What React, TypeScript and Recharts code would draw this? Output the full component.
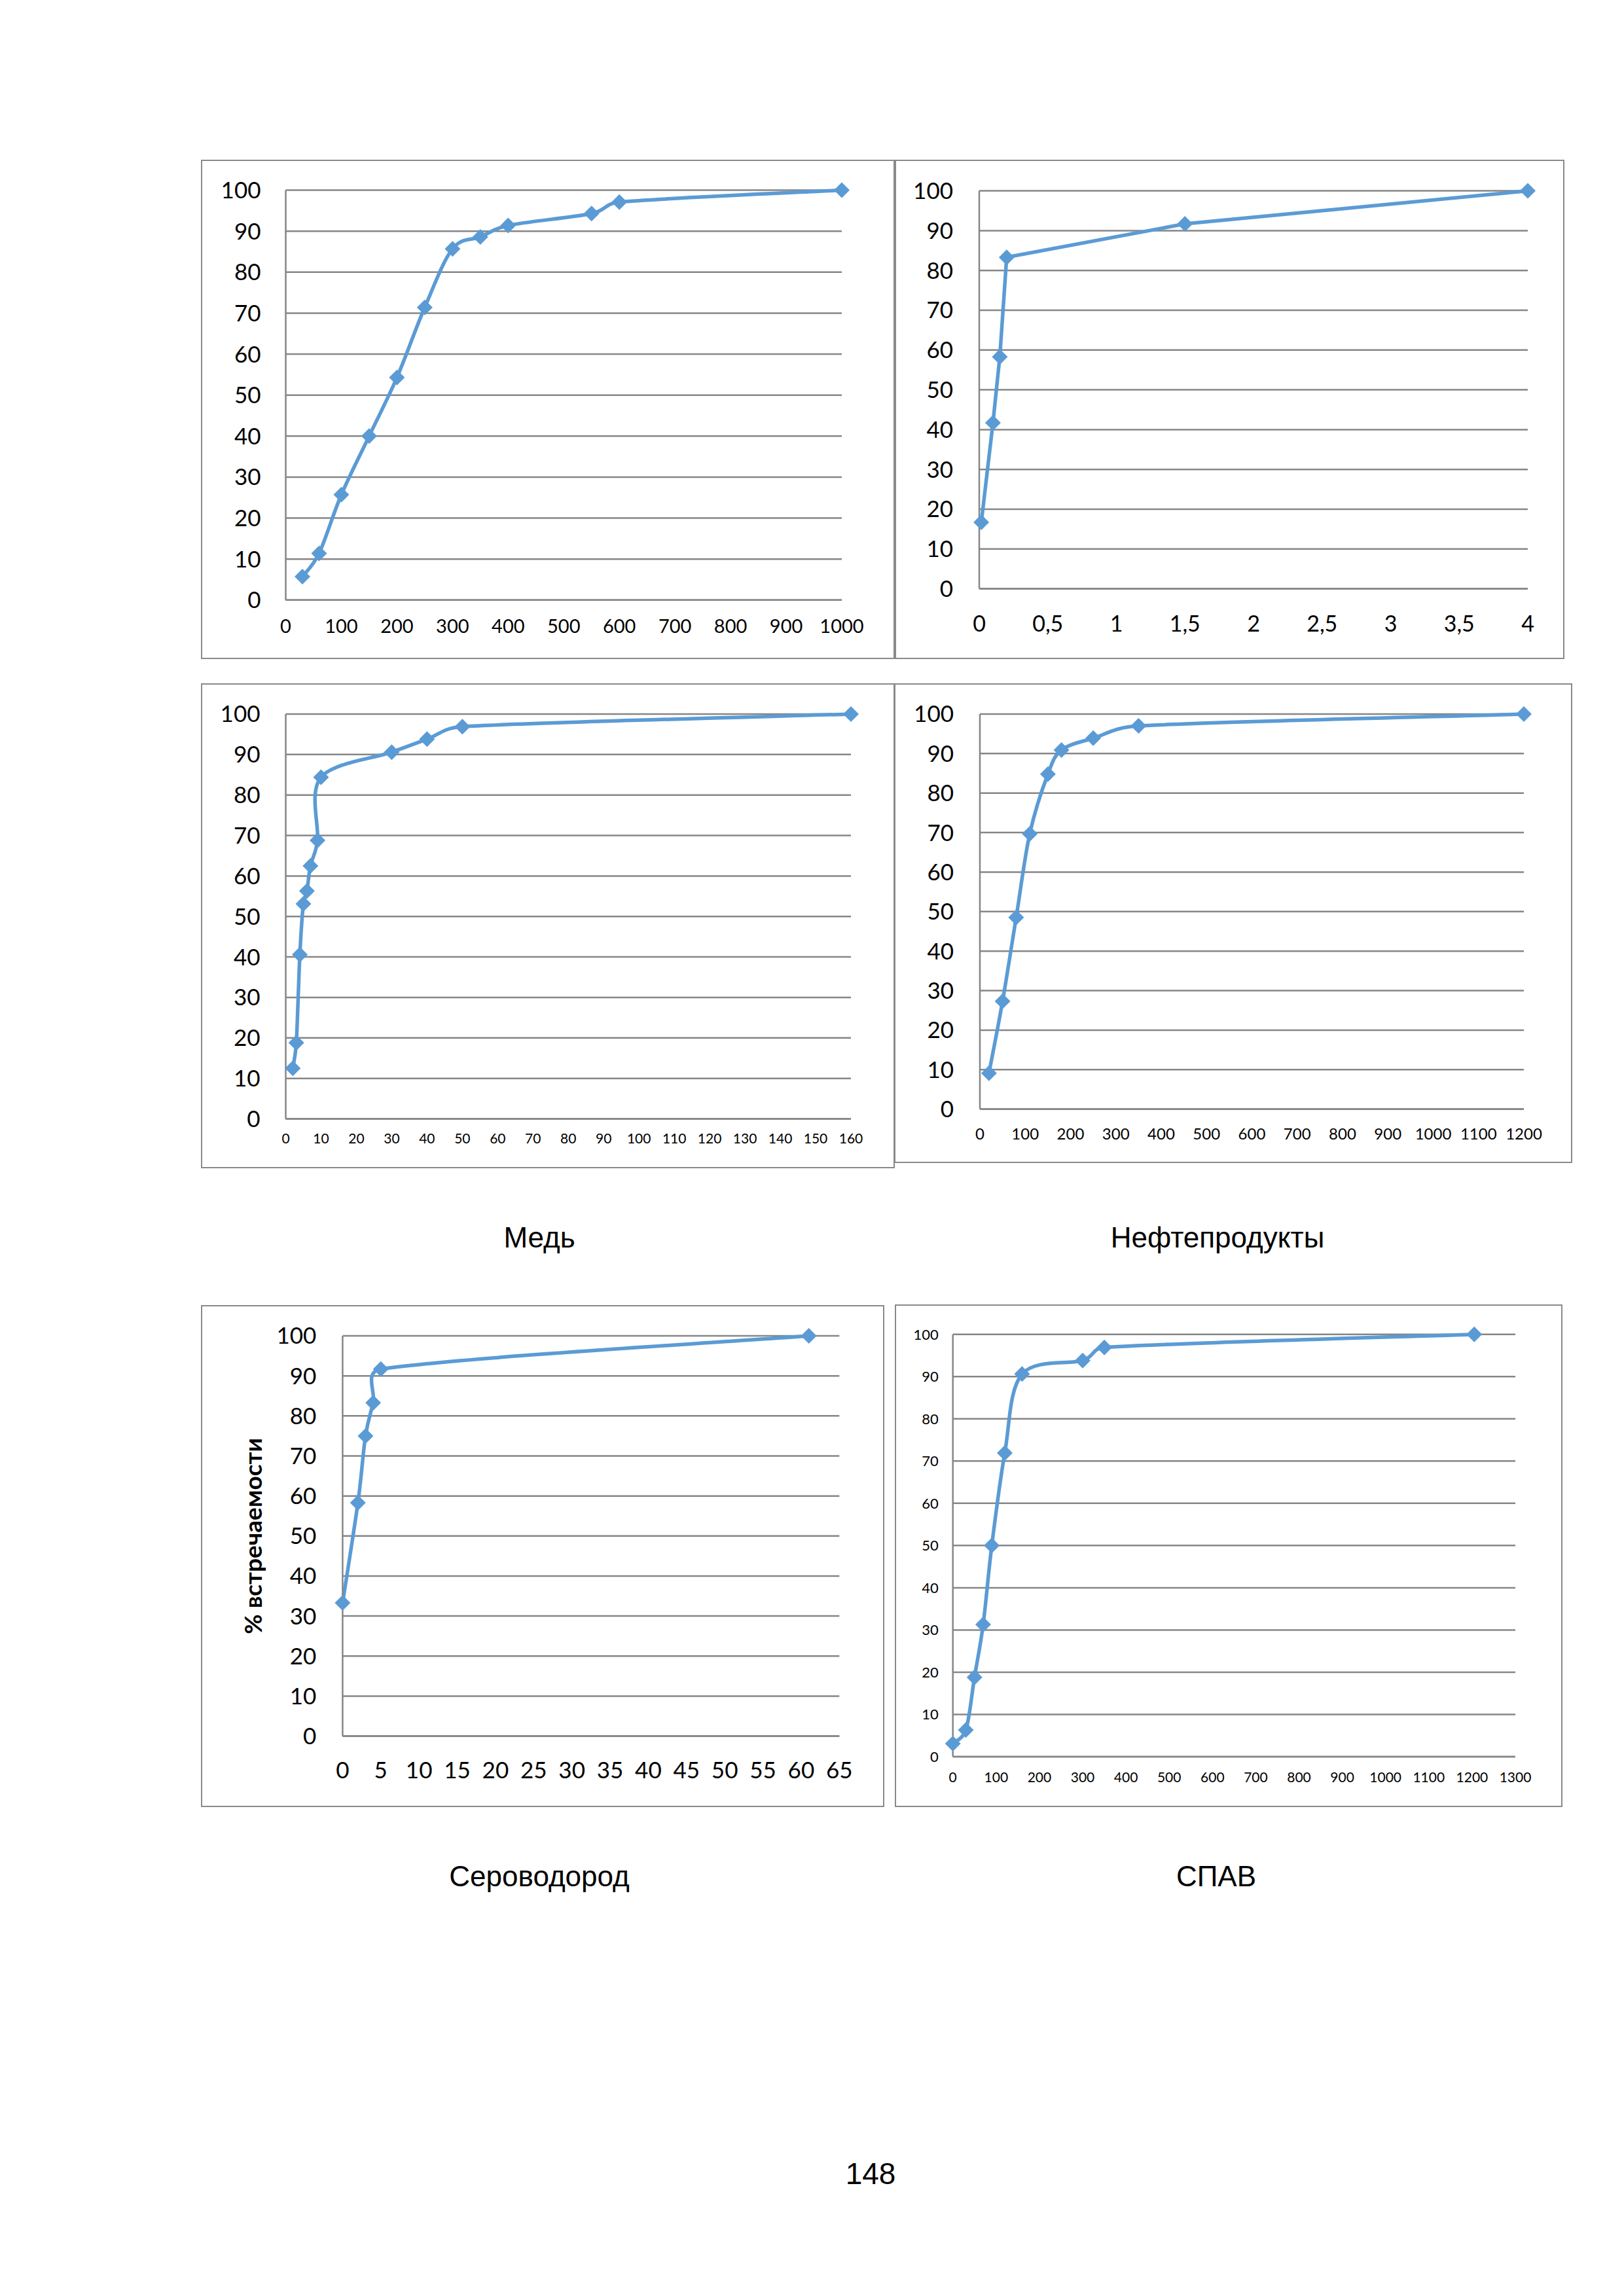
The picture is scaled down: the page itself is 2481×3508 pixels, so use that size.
import React from "react"
import { LineChart, Line, XAxis, YAxis, CartesianGrid, Label } from "recharts"

const BLUE = "#5B9BD5"
const GRID = "#868686"
const FRAME = "#8a8a8a"
const TICK_FONT = "Lato, Carlito, 'Open Sans', sans-serif"
const TEXT_FONT = "'Liberation Sans', Arial, sans-serif"

const Y_TICKS = [0, 10, 20, 30, 40, 50, 60, 70, 80, 90, 100]

// row 1, left
const topLeftX = [30, 60, 100, 150, 200, 250, 300, 350, 400, 550, 600, 1000]
const topLeftY = [5.7, 11.4, 25.7, 40, 54.3, 71.4, 85.7, 88.6, 91.4, 94.3, 97.1, 100]
const topLeftTicks = [0, 100, 200, 300, 400, 500, 600, 700, 800, 900, 1000]

// row 1, right
const topRightX = [0.015, 0.1, 0.15, 0.2, 1.5, 4]
const topRightY = [16.7, 41.7, 58.3, 83.3, 91.7, 100]
const topRightTicks = [0, 0.5, 1, 1.5, 2, 2.5, 3, 3.5, 4]

// Медь
const copperX = [2, 3, 4, 5, 6, 7, 9, 10, 30, 40, 50, 160]
const copperY = [12.5, 18.8, 40.6, 53.1, 56.3, 62.5, 68.8, 84.4, 90.6, 93.8, 96.9, 100]
const copperTicks = [0, 10, 20, 30, 40, 50, 60, 70, 80, 90, 100, 110, 120, 130, 140, 150, 160]

// Нефтепродукты
const oilX = [20, 50, 80, 110, 150, 180, 250, 350, 1200]
const oilY = [9.1, 27.3, 48.5, 69.7, 84.8, 90.9, 93.9, 97, 100]
const oilTicks = [0, 100, 200, 300, 400, 500, 600, 700, 800, 900, 1000, 1100, 1200]

// Сероводород
const h2sX = [0, 2, 3, 4, 5, 61]
const h2sY = [33.3, 58.3, 75, 83.3, 91.7, 100]
const h2sTicks = [0, 5, 10, 15, 20, 25, 30, 35, 40, 45, 50, 55, 60, 65]

// СПАВ
const surfX = [0, 30, 50, 70, 90, 120, 160, 300, 350, 1205]
const surfY = [3.1, 6.3, 18.8, 31.3, 50, 71.9, 90.6, 93.8, 96.9, 100]
const surfTicks = [0, 100, 200, 300, 400, 500, 600, 700, 800, 900, 1000, 1100, 1200, 1300]

const toRows = (xs: number[], ys: number[]) => xs.map((x, i) => ({ x, y: ys[i] }))

// Excel-like smoothed line: Catmull-Rom arms, shortened when a neighbour is far away
const excelSmooth = (context: any) => {
  let pts: number[][] = []
  const arm = (a: number[], b: number[], seg: number) => {
    let dx = (b[0] - a[0]) / 6
    let dy = (b[1] - a[1]) / 6
    const len = Math.hypot(dx, dy)
    const max = seg * 0.5
    if (len > max && len > 0) {
      dx *= max / len
      dy *= max / len
    }
    return [dx, dy]
  }
  return {
    areaStart() {},
    areaEnd() {},
    lineStart() {
      pts = []
    },
    lineEnd() {
      if (!pts.length) return
      context.moveTo(pts[0][0], pts[0][1])
      for (let i = 0; i < pts.length - 1; i++) {
        const p0 = pts[i - 1] || pts[i]
        const p1 = pts[i]
        const p2 = pts[i + 1]
        const p3 = pts[i + 2] || p2
        const seg = Math.hypot(p2[0] - p1[0], p2[1] - p1[1])
        const a1 = arm(p0, p2, seg)
        const a2 = arm(p1, p3, seg)
        context.bezierCurveTo(p1[0] + a1[0], p1[1] + a1[1], p2[0] - a2[0], p2[1] - a2[1], p2[0], p2[1])
      }
    },
    point(x: number, y: number) {
      pts.push([+x, +y])
    },
  }
}

const renderDiamond = (p: any) => {
  const { cx, cy, index } = p
  if (cx == null || cy == null) return <g key={`d-${index}`} />
  const r = 12
  return (
    <path
      key={`d-${index}`}
      d={`M${cx},${cy - r}L${cx + r},${cy}L${cx},${cy + r}L${cx - r},${cy}Z`}
      fill={BLUE}
    />
  )
}

type Rect = { left: number; top: number; right: number; bottom: number }

type PanelProps = {
  frame: Rect
  plot: Rect
  data: { x: number; y: number }[]
  xTicks: number[]
  xFont: number
  yFont: number
  xGap: number
  yGap: number
  smooth?: boolean
  fmt?: (v: number) => string
  yTitle?: string
}

const Panel = ({ frame, plot, data, xTicks, xFont, yFont, xGap, yGap, smooth = true, fmt, yTitle }: PanelProps) => {
  const w = frame.right - frame.left
  const h = frame.bottom - frame.top
  return (
    <div style={{ position: "absolute", left: frame.left, top: frame.top, width: w, height: h }}>
      <div
        style={{
          position: "absolute",
          left: -1,
          top: -1,
          width: w + 2,
          height: h + 2,
          border: `2.5px solid ${FRAME}`,
          boxSizing: "border-box",
        }}
      />
      <LineChart
        width={w}
        height={h}
        data={data}
        margin={{ top: plot.top - frame.top, right: frame.right - plot.right, left: 0, bottom: 0 }}
      >
        <CartesianGrid vertical={false} stroke={GRID} strokeWidth={2.5} />
        <XAxis
          type="number"
          dataKey="x"
          domain={[xTicks[0], xTicks[xTicks.length - 1]]}
          ticks={xTicks}
          interval={0}
          height={frame.bottom - plot.bottom}
          tickSize={0}
          tickMargin={xGap}
          tickLine={false}
          axisLine={{ stroke: GRID, strokeWidth: 2.5 }}
          tick={{ fontSize: xFont, fill: "#000", fontFamily: TICK_FONT }}
          tickFormatter={fmt}
        />
        <YAxis
          type="number"
          domain={[0, 100]}
          ticks={Y_TICKS}
          interval={0}
          width={plot.left - frame.left}
          tickSize={0}
          tickMargin={yGap}
          tickLine={false}
          axisLine={{ stroke: GRID, strokeWidth: 2.5 }}
          tick={{ fontSize: yFont, fill: "#000", fontFamily: TICK_FONT }}
        >
          {yTitle && (
            <Label
              content={(props: any) => {
                const vb = props.viewBox || {}
                const cx = (vb.x || 0) + 78
                const cy = (vb.y || 0) + (vb.height || 0) / 2
                return (
                  <text
                    x={cx}
                    y={cy}
                    transform={`rotate(-90 ${cx} ${cy})`}
                    textAnchor="middle"
                    dominantBaseline="central"
                    fontFamily={TICK_FONT}
                    fontWeight={700}
                    fontSize={37}
                    fill="#000"
                  >
                    {yTitle}
                  </text>
                )
              }}
            />
          )}
        </YAxis>
        <Line
          dataKey="y"
          type={(smooth ? excelSmooth : "linear") as any}
          stroke={BLUE}
          strokeWidth={5.5}
          dot={renderDiamond}
          activeDot={false}
          isAnimationActive={false}
        />
      </LineChart>
    </div>
  )
}

const Caption = ({ text, cx, top, size = 44 }: { text: string; cx: number; top: number; size?: number }) => (
  <div
    style={{
      position: "absolute",
      left: cx - 400,
      top,
      width: 800,
      textAlign: "center",
      fontFamily: TEXT_FONT,
      fontSize: size,
      lineHeight: 1,
      color: "#000",
    }}
  >
    {text}
  </div>
)

const comma = (v: number) => String(v).replace(".", ",")

export default function App() {
  return (
    <div style={{ position: "absolute", left: 0, top: 0, width: 2481, height: 3508, background: "#fff" }}>
      <Panel
        frame={{ left: 308, top: 245, right: 1366, bottom: 1006 }}
        plot={{ left: 436.5, top: 290.6, right: 1286, bottom: 916.8 }}
        data={toRows(topLeftX, topLeftY)}
        xTicks={topLeftTicks}
        xFont={29}
        yFont={35}
        xGap={30}
        yGap={38}
      />
      <Panel
        frame={{ left: 1368, top: 245, right: 2389, bottom: 1006 }}
        plot={{ left: 1496, top: 291.6, right: 2334, bottom: 899.6 }}
        data={toRows(topRightX, topRightY)}
        xTicks={topRightTicks}
        xFont={34}
        yFont={35}
        xGap={41}
        yGap={40}
        smooth={false}
        fmt={comma}
      />
      <Panel
        frame={{ left: 308, top: 1045, right: 1366, bottom: 1784 }}
        plot={{ left: 436.5, top: 1091, right: 1300, bottom: 1709.5 }}
        data={toRows(copperX, copperY)}
        xTicks={copperTicks}
        xFont={21}
        yFont={35}
        xGap={23}
        yGap={39}
      />
      <Panel
        frame={{ left: 1367, top: 1045, right: 2401, bottom: 1776 }}
        plot={{ left: 1497, top: 1091, right: 2328, bottom: 1694.6 }}
        data={toRows(oilX, oilY)}
        xTicks={oilTicks}
        xFont={24}
        yFont={35}
        xGap={29}
        yGap={40}
      />
      <Panel
        frame={{ left: 308, top: 1995, right: 1350, bottom: 2760 }}
        plot={{ left: 523.4, top: 2041, right: 1282.3, bottom: 2652.6 }}
        data={toRows(h2sX, h2sY)}
        xTicks={h2sTicks}
        xFont={35}
        yFont={35}
        xGap={40}
        yGap={40}
        yTitle="% встречаемости"
      />
      <Panel
        frame={{ left: 1368, top: 1994, right: 2386, bottom: 2760 }}
        plot={{ left: 1455.7, top: 2038.7, right: 2315, bottom: 2684 }}
        data={toRows(surfX, surfY)}
        xTicks={surfTicks}
        xFont={21}
        yFont={22}
        xGap={24}
        yGap={22}
      />
      <Caption text="Медь" cx={824} top={1869} />
      <Caption text="Нефтепродукты" cx={1860} top={1869} />
      <Caption text="Сероводород" cx={824} top={2845} />
      <Caption text="СПАВ" cx={1858} top={2845} />
      <Caption text="148" cx={1330} top={3298} size={46} />
    </div>
  )
}
